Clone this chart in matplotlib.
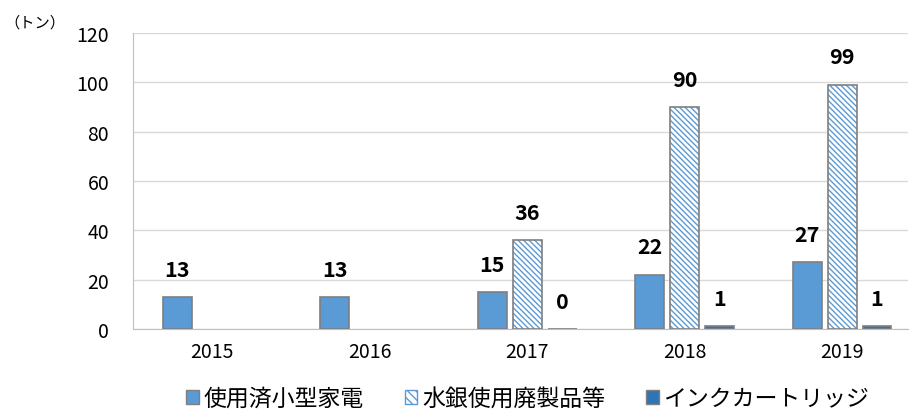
import numpy as np
import matplotlib.pyplot as plt
from matplotlib.patches import Patch

plt.rcParams['font.family'] = ['Noto Sans CJK JP', 'DejaVu Sans']

years = ['2015', '2016', '2017', '2018', '2019']
kaden = [13, 13, 15, 22, 27]
suigin = [np.nan, np.nan, 36, 90, 99]
ink = [np.nan, np.nan, 0, 1, 1]
names = ['使用済小型家電', '水銀使用廃製品等', 'インクカートリッジ']

c_blue = '#5b9bd5'
c_ink = '#2e75b6'
c_edge = '#7f7f7f'

fig = plt.figure(figsize=(9.10, 4.14), dpi=100)
ax = fig.add_axes([0.146, 0.203, 0.852, 0.715])

x = np.arange(len(years))
w = 0.184
off = 0.222

ax.bar(x - off, kaden, w, color=c_blue, edgecolor=c_edge, linewidth=1.2, zorder=3)
# hatched bars: hatch in blue, outline in gray
ax.bar(x, suigin, w, color='white', edgecolor=c_blue, hatch='\\\\\\\\\\\\', linewidth=0, zorder=3)
ax.bar(x, suigin, w, fill=False, edgecolor=c_edge, linewidth=1.2, zorder=4)
ax.bar(x + off, ink, w, color=c_ink, edgecolor=c_edge, linewidth=1.2, zorder=3)

for xs, vals in [(x - off, kaden), (x, suigin), (x + off, ink)]:
    for xi, v in zip(xs, vals):
        if np.isnan(v):
            continue
        ax.annotate(f'{v:.0f}', (xi, v), xytext=(0, 20), textcoords='offset points',
                    ha='center', va='center', fontsize=15.5, fontweight='bold')

ax.set_ylim(0, 120)
ax.set_yticks(range(0, 121, 20))
ax.set_xlim(-0.505, 4.42)
ax.set_xticks(x)
ax.set_xticklabels(years)
ax.tick_params(axis='both', length=0, labelsize=14)
ax.tick_params(axis='y', pad=17)
ax.tick_params(axis='x', pad=9)
ax.grid(axis='y', color='#d9d9d9', linewidth=1, zorder=0)
for s in ['top', 'right']:
    ax.spines[s].set_visible(False)
ax.spines['left'].set_color('#bfbfbf')
ax.spines['bottom'].set_color('#bfbfbf')

fig.text(0.005, 0.945, '（トン）', fontsize=11, ha='left', va='center')

handles = [Patch(facecolor=c_blue, edgecolor=c_edge),
           Patch(facecolor='white', edgecolor=c_blue, hatch='\\\\\\\\'),
           Patch(facecolor=c_ink, edgecolor=c_edge)]
fig.legend(handles, names, loc='center', bbox_to_anchor=(0.58, 0.035), ncol=3,
           frameon=False, fontsize=16.5, handlelength=0.55, handleheight=0.55,
           handletextpad=0.2, columnspacing=1.8, borderpad=0)

fig.savefig('out.png', dpi=100)
